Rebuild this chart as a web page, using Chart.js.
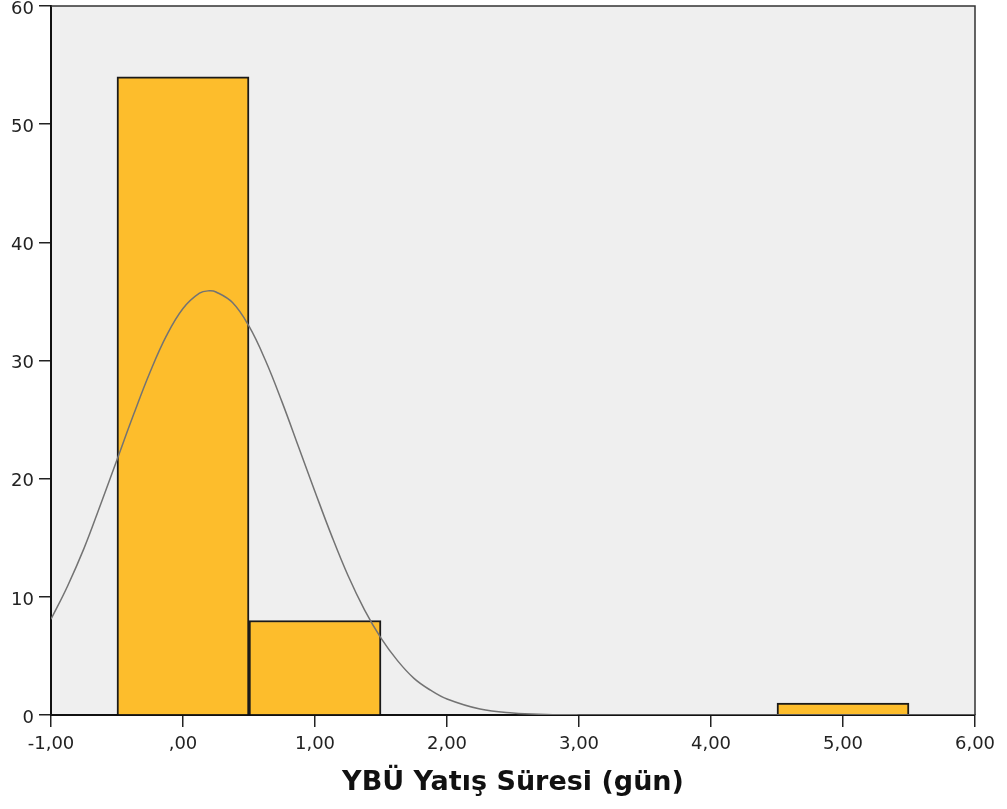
<!DOCTYPE html>
<html>
<head>
<meta charset="utf-8">
<script src="https://cdn.jsdelivr.net/npm/chart.js@4/dist/chart.umd.min.js"></script>
<style>
  html, body { margin: 0; padding: 0; background: #fff; }
  #wrap { width: 1007px; height: 809px; }
</style>
</head>
<body>
<div id="wrap"><canvas id="myChart"></canvas></div>
<script>
// histogram bins (bin centre, count)
const binCentres = [0, 1, 5];
const binCounts = [54, 8, 1];

// normal curve
const curveX = [-1, -0.875, -0.75, -0.625, -0.5, -0.375, -0.25, -0.125, 0, 0.125, 0.2, 0.25, 0.375, 0.5, 0.625, 0.75, 0.875,
    1, 1.125, 1.25, 1.375, 1.5, 1.625, 1.75, 1.875, 2, 2.25, 2.5, 2.75, 3, 3.5, 4, 5, 6];
const curveY = [8.1, 10.9, 14.1, 17.8, 21.6, 25.4, 29.0, 32.1, 34.4, 35.7, 35.9, 35.8, 34.9, 32.9, 30.0, 26.5, 22.7,
    18.9, 15.2, 11.8, 8.9, 6.5, 4.6, 3.1, 2.1, 1.35, 0.5, 0.17, 0.05, 0.01, 0, 0, 0, 0];

const yTicks = [0, 10, 20, 30, 40, 50, 60];
const xTitle = "YBÜ Yatış Süresi (gün)";

const tickFont = "'DejaVu Sans', 'Liberation Sans', Arial, sans-serif";

function fmt(v) {
    let s = v.toFixed(2).replace('.', ',');
    if (s === '0,00') s = ',00';
    return s;
}

const plotFrame = {
    id: 'plotFrame',
    beforeDraw(chart) {
        const a = chart.chartArea;
        const ctx = chart.ctx;
        ctx.save();
        ctx.fillStyle = '#efefef';
        ctx.fillRect(a.left, a.top, a.right - a.left, a.bottom - a.top);
        ctx.restore();
    },
    afterDraw(chart) {
        const a = chart.chartArea;
        const ctx = chart.ctx;
        ctx.save();
        ctx.strokeStyle = '#333';
        ctx.lineWidth = 1.5;
        ctx.beginPath();
        ctx.moveTo(a.left, a.top);
        ctx.lineTo(a.right, a.top);
        ctx.lineTo(a.right, a.bottom);
        ctx.stroke();
        ctx.restore();
    }
};

const data = {
    datasets: [{
        type: 'line',
        data: curveX.map((x, i) => ({ x: x, y: curveY[i] })),
        borderColor: '#737373',
        borderWidth: 1.5,
        pointRadius: 0,
        tension: 0.4,
        fill: false,
        order: 0
    }, {
        type: 'bar',
        data: binCentres.map((x, i) => ({ x: x, y: binCounts[i] })),
        backgroundColor: '#fdbd2c',
        borderColor: '#1a1a1a',
        borderWidth: 2,
        barPercentage: 1,
        categoryPercentage: 1,
        order: 1
    }]
};

const config = {
    type: 'bar',
    data: data,
    plugins: [plotFrame],
    options: {
        responsive: false,
        animation: false,
        layout: {
            padding: { top: 0, right: 32, left: 0, bottom: 0 }
        },
        scales: {
            x: {
                type: 'linear',
                min: -1,
                max: 6,
                offset: false,
                afterFit: function(scale) { scale.height = 94; },
                ticks: {
                    stepSize: 1,
                    color: '#222',
                    padding: 7,
                    maxRotation: 0,
                    font: { family: tickFont, size: 18 },
                    callback: function(v) { return fmt(v); }
                },
                grid: {
                    display: true,
                    offset: false,
                    drawOnChartArea: false,
                    drawTicks: true,
                    tickLength: 12,
                    color: '#222',
                    lineWidth: 1.5
                },
                border: { display: true, color: '#111', width: 2 },
                title: {
                    display: true,
                    text: xTitle,
                    color: '#111',
                    font: { family: tickFont, size: 27, weight: 'bold' },
                    padding: { top: 0, bottom: 10 }
                }
            },
            y: {
                min: 0,
                max: 60,
                afterFit: function(scale) {
                    scale.width = 51;
                    scale.paddingTop = 6;
                },
                afterBuildTicks: function(scale) {
                    scale.ticks = yTicks.map(v => ({ value: v }));
                },
                ticks: {
                    color: '#222',
                    padding: 5,
                    labelOffset: 3,
                    font: { family: tickFont, size: 18 }
                },
                grid: {
                    display: true,
                    drawOnChartArea: false,
                    drawTicks: true,
                    tickLength: 12,
                    color: '#222',
                    lineWidth: 1.5
                },
                border: { display: true, color: '#111', width: 2 }
            }
        },
        plugins: {
            legend: { display: false },
            tooltip: { enabled: false }
        }
    }
};

const canvas = document.getElementById('myChart');
canvas.width = 1007;
canvas.height = 809;
new Chart(canvas, config);
</script>
</body>
</html>
